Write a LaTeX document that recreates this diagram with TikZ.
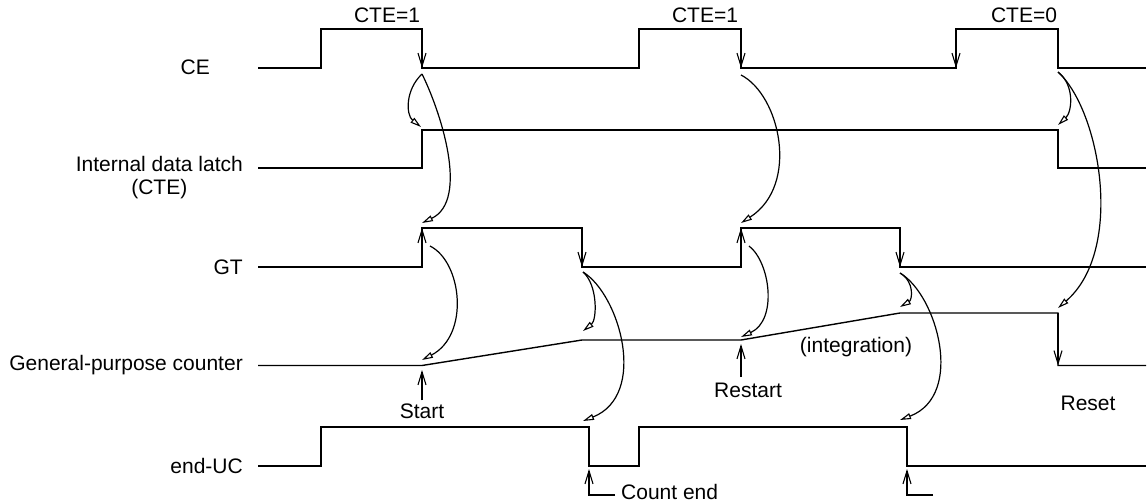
\documentclass[tikz,border=0pt]{standalone}
\usepackage{fontspec}
\setmainfont{Liberation Sans}
\usetikzlibrary{arrows.meta}

\begin{document}
\begin{tikzpicture}[x=1pt, y=-1pt,
  every node/.style={font=\fontsize{21}{23}\selectfont, inner sep=0pt},
  wave/.style={line width=1.4pt, line join=miter},
  edge/.style={line width=1.3pt, -{Straight Barb[length=13pt, width=8pt, line width=1.1pt]}},
  cause/.style={line width=1.2pt, -{Triangle[open, length=11pt, width=6pt, line width=1.1pt]}}]
\useasboundingbox (0,0) rectangle (1147,503);

% signal names
\node[anchor=east] (lCE) at (210,67) {CE};
\node[anchor=east, align=center] (lLatch) at (243,178) {Internal data latch\\(CTE)};
\node[anchor=east] (lGT) at (243,267) {GT};
\node[anchor=east] (lCount) at (243,365) {General-purpose counter};
\node[anchor=east] (lEnd) at (243,466) {end-UC};

% waveforms
\draw[wave] (258,68) -- (321,68) -- (321,29) -- (422,29) -- (422,68) -- (639,68) -- (639,29)
  -- (741,29) -- (741,68) -- (956,68) -- (956,29) -- (1058,29) -- (1058,68) -- (1146,68);
\draw[wave] (258,168) -- (422,168) -- (422,130) -- (1058,130) -- (1058,168) -- (1146,168);
\draw[wave] (258,267) -- (422,267) -- (422,228) -- (582,228) -- (582,267) -- (741,267)
  -- (741,228) -- (900,228) -- (900,267) -- (1146,267);
\draw[wave] (258,365.5) -- (422,365.5) -- (582,340) -- (741,340) -- (900,313) -- (1058,313)
  -- (1058,365.5) -- (1146,365.5);
\draw[wave] (258,466) -- (321,466) -- (321,427) -- (589,427) -- (589,466) -- (639,466)
  -- (639,427) -- (907,427) -- (907,466) -- (1146,466);

% edges that matter
\draw[edge] (422,29) -- (422,68);
\draw[edge] (741,29) -- (741,68);
\draw[edge] (956,29) -- (956,68);
\draw[edge] (422,267) -- (422,228);
\draw[edge] (582,228) -- (582,267);
\draw[edge] (741,267) -- (741,228);
\draw[edge] (900,228) -- (900,267);
\draw[edge] (1058,313) -- (1058,365.5);

\node (tagA) at (387,15) {CTE=1};
\node (tagB) at (705,15) {CTE=1};
\node (tagC) at (1024,15) {CTE=0};

% event points
\path (422,74) coordinate (ceA) (741,75) coordinate (ceB) (1058,72) coordinate (ceC)
      (421,127) coordinate (ltA) (1058,125) coordinate (ltB)
      (422,223) coordinate (gtA) (430,246) coordinate (gtAo)
      (741,223) coordinate (gtB) (749,246) coordinate (gtBo)
      (583,272) coordinate (gtCo) (900,273) coordinate (gtDo)
      (422,360) coordinate (cnA) (583,331) coordinate (cnB) (741,337) coordinate (cnC)
      (900,307) coordinate (cnD) (1058,308) coordinate (cnE)
      (583,421) coordinate (ucA) (900,420) coordinate (ucB);

% cause and effect
\draw[cause] (ceA) .. controls +(-17,16) and +(-15,-12) .. (ltA);
\draw[cause] (ceA) .. controls +(18,36) and +(48,-23) .. (gtA);
\draw[cause] (gtAo) .. controls +(32,16) and +(48,-25) .. (cnA);
\draw[cause] (ceB) .. controls +(39,20) and +(59,-38) .. (gtB);
\draw[cause] (gtBo) .. controls +(21,16) and +(37,-17) .. (cnC);
\draw[cause] (gtCo) .. controls +(15,13) and +(14,-11) .. (cnB);
\draw[cause] (gtCo) .. controls +(37,23) and +(65,-26) .. (ucA);
\draw[cause] (gtDo) .. controls +(15,9) and +(12,-7) .. (cnD);
\draw[cause] (gtDo) .. controls +(37,22) and +(65,-25) .. (ucB);
\draw[cause] (ceC) .. controls +(17,13) and +(14,-13) .. (ltB);
\draw[cause] (ceC) .. controls +(42,38) and +(67,-58) .. (cnE);

% counter notes
\node (start) at (422,411) {Start};
\draw[edge] (start.north) ++(0,-3) -- (422,370);
\node (restart) at (748,390) {Restart};
\draw[edge] (741,377) -- (741,344);
\node (integ) at (856,347) {(integration)};
\node (reset) at (1088,403) {Reset};
\node[anchor=west] (cntend) at (621,492) {Count end};
\draw[edge] (cntend.west) ++(-6,3) -- (589,495) -- (589,469);
\draw[edge] (933,495) -- (907,495) -- (907,469);
\end{tikzpicture}
\end{document}
